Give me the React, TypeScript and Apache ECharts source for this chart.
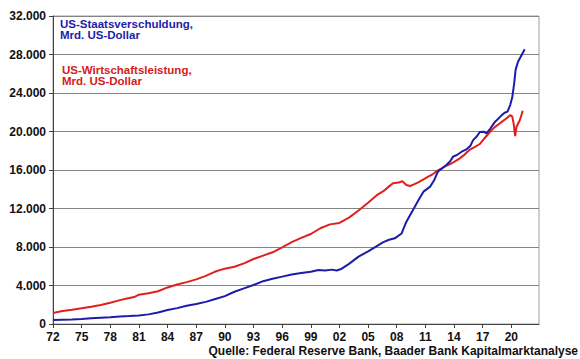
import React, { useEffect, useRef } from "react";
import * as echarts from "echarts";

const debtYears = [1972, 1973, 1974, 1975, 1976, 1977, 1978, 1979, 1980, 1981, 1982, 1983, 1984, 1985, 1986, 1987, 1988, 1989, 1990, 1991, 1992, 1993, 1994, 1995, 1996, 1997, 1998, 1999, 1999.8, 2000.5, 2001.2, 2001.7, 2002.2, 2003, 2004, 2005, 2006, 2006.6, 2007.2, 2007.8, 2008.5, 2009.0, 2009.7, 2010.3, 2010.8, 2011.5, 2011.9, 2012.3, 2012.8, 2013.2, 2013.6, 2013.9, 2014.3, 2014.8, 2015.3, 2015.7, 2016.0, 2016.4, 2016.7, 2017.1, 2017.4, 2017.8, 2018.3, 2018.5, 2018.9, 2019.3, 2019.6, 2019.9, 2020.1, 2020.3, 2020.45, 2020.7, 2021.0, 2021.4];
const debtValues = [420, 450, 470, 510, 590, 640, 690, 770, 820, 880, 1000, 1200, 1450, 1650, 1900, 2080, 2300, 2600, 2900, 3350, 3700, 4050, 4450, 4700, 4920, 5150, 5300, 5420, 5620, 5560, 5650, 5560, 5720, 6250, 7000, 7550, 8150, 8500, 8750, 8900, 9400, 10600, 11850, 12900, 13750, 14270, 14900, 15820, 16200, 16520, 16900, 17390, 17560, 17900, 18150, 18500, 19100, 19500, 19950, 19980, 19800, 20300, 21020, 21200, 21600, 21950, 22060, 22800, 23550, 25000, 26400, 27250, 27800, 28540];

const gdpYears = [1972, 1973, 1974, 1975, 1976, 1977, 1978, 1979, 1980, 1980.5, 1981, 1982, 1983, 1984, 1985, 1986, 1987, 1988, 1989, 1990, 1991, 1992, 1993, 1994, 1995, 1996, 1997, 1998, 1999, 2000, 2001, 2002, 2003, 2004, 2005, 2006, 2006.6, 2007.2, 2007.6, 2008.2, 2008.6, 2009.0, 2009.4, 2009.8, 2010.3, 2010.8, 2011.3, 2011.8, 2012.2, 2012.7, 2013.1, 2013.6, 2014.1, 2014.6, 2015.1, 2015.7, 2016.2, 2016.7, 2017.2, 2017.8, 2018.2, 2018.6, 2019.0, 2019.4, 2019.9, 2020.1, 2020.25, 2020.4, 2020.55, 2020.9, 2021.2];
const gdpValues = [1150, 1350, 1480, 1630, 1800, 1980, 2200, 2480, 2700, 2800, 3050, 3200, 3400, 3800, 4100, 4350, 4640, 5000, 5450, 5750, 5950, 6300, 6750, 7100, 7450, 7970, 8500, 8950, 9350, 9950, 10350, 10500, 11050, 11800, 12600, 13450, 13800, 14300, 14620, 14700, 14830, 14450, 14340, 14500, 14750, 15030, 15300, 15580, 15900, 16170, 16400, 16620, 16900, 17210, 17600, 18150, 18400, 18700, 19300, 20000, 20400, 20700, 21000, 21300, 21700, 21550, 20800, 19530, 20500, 21200, 22150];

const yearTickLabels = ["72", "75", "78", "81", "84", "87", "90", "93", "96", "99", "02", "05", "08", "11", "14", "17", "20"];

const debtLabel = ["US-Staatsverschuldung,", "Mrd. US-Dollar"];
const gdpLabel = ["US-Wirtschaftsleistung,", "Mrd. US-Dollar"];
const sourceText = "Quelle: Federal Reserve Bank, Baader Bank Kapitalmarktanalyse";

const FONT = "'Liberation Sans', Arial, sans-serif";
const BLUE = "#1c1caa";
const RED = "#e0201e";

export default function App() {
  const ref = useRef<HTMLDivElement>(null);
  useEffect(() => {
    document.body.style.margin = "0";
    if (!ref.current) return;
    const chart = echarts.init(ref.current, undefined, { renderer: "svg" });
    const debtData = debtYears.map((y, i) => [y, debtValues[i]]);
    const gdpData = gdpYears.map((y, i) => [y, gdpValues[i]]);
    chart.setOption({
      animation: false,
      backgroundColor: "#ffffff",
      grid: {
        left: 53,
        right: 41,
        top: 16,
        bottom: 35,
        show: true,
        borderColor: "#a0a0a0",
        borderWidth: 1,
        backgroundColor: "transparent",
      },
      xAxis: {
        type: "value",
        min: 1972,
        max: 2022.9,
        interval: 3,
        axisLine: { show: true, onZero: false, lineStyle: { color: "#404040", width: 1 } },
        axisTick: { show: true, length: 4, lineStyle: { color: "#404040" } },
        splitLine: { show: false },
        axisLabel: {
          showMaxLabel: false,
          margin: 7,
          color: "#111",
          fontFamily: FONT,
          fontWeight: "bold",
          fontSize: 12,
          formatter: (v: number) => {
            const idx = Math.round((v - 1972) / 3);
            return yearTickLabels[idx] ?? "";
          },
        },
      },
      yAxis: {
        type: "value",
        min: 0,
        max: 32000,
        interval: 4000,
        axisLine: { show: true, lineStyle: { color: "#404040", width: 1 } },
        axisTick: { show: true, length: 4, lineStyle: { color: "#404040" } },
        splitLine: { show: true, lineStyle: { color: "#858585", width: 1 } },
        axisLabel: {
          margin: 7,
          color: "#111",
          fontFamily: FONT,
          fontWeight: "bold",
          fontSize: 12,
          formatter: (v: number) => String(v).replace(/\B(?=(\d{3})+(?!\d))/g, "."),
        },
      },
      series: [
        {
          type: "line",
          name: "GDP",
          data: gdpData,
          showSymbol: false,
          lineStyle: { color: RED, width: 2 },
          itemStyle: { color: RED },
          z: 3,
        },
        {
          type: "line",
          name: "Debt",
          data: debtData,
          showSymbol: false,
          lineStyle: { color: BLUE, width: 2 },
          itemStyle: { color: BLUE },
          z: 4,
        },
      ],
      graphic: [
        {
          type: "text",
          x: 60,
          y: 18,
          style: {
            text: debtLabel.join("\n"),
            fill: BLUE,
            font: `bold 11.5px ${FONT}`,
            lineHeight: 11,
          },
        },
        {
          type: "text",
          x: 62,
          y: 64,
          style: {
            text: gdpLabel.join("\n"),
            fill: "#d42020",
            font: `bold 11.5px ${FONT}`,
            lineHeight: 11.5,
          },
        },
        {
          type: "text",
          x: 578,
          y: 351,
          style: {
            text: sourceText,
            fill: "#111",
            font: `bold 12px ${FONT}`,
            textAlign: "right",
            textVerticalAlign: "middle",
          },
        },
      ],
    });
    return () => chart.dispose();
  }, []);
  return <div ref={ref} style={{ width: 580, height: 359 }} />;
}
